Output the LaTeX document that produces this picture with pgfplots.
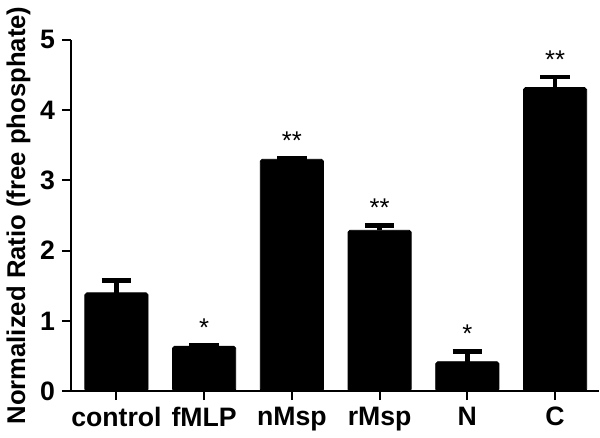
\documentclass[border=0pt]{standalone}
\usepackage{fontspec}
\setmainfont{Liberation Sans}
\usepackage{pgfplots}
\usepackage{pgfplotstable}
\pgfplotsset{compat=1.18}

\pgfplotstableread{
x y err star
0 1.40 0.17 {}
1 0.64 0.01 *
2 3.30 0.01 **
3 2.29 0.07 **
4 0.42 0.15 *
5 4.32 0.15 **
}\ratios

\begin{document}
\begin{tikzpicture}[font=\bfseries]
\begin{axis}[
  scale only axis, width=267.5pt, height=178pt,
  xmin=-0.52, xmax=5.5, ymin=0, ymax=5,
  axis x line*=bottom, axis y line*=left,
  axis line style={line width=1.1pt, -},
  xtick=data, xticklabels={control, fMLP, nMsp, rMsp, N, C},
  ytick={0,1,2,3,4,5},
  tick style={line width=1.1pt, black},
  major tick length=4.5pt, tick align=outside,
  tick label style={font=\fontsize{13.5}{15}\bfseries},
  /pgf/number format/assume math mode=true,
  ylabel={Normalized Ratio (free phosphate)},
  ylabel style={font=\fontsize{13}{15}\bfseries, yshift=-2pt},
  clip=false,
]
\addplot[ybar, bar width=32pt, bar shift=0pt, fill=black, draw=black,
  rounded corners=1pt,
  error bars/.cd, y dir=plus, y explicit,
  error bar style={line width=2.4pt, black},
  error mark options={rotate=90, mark size=7.5pt, line width=2.4pt, black}]
  table[x=x, y=y, y error=err] {\ratios};
\addplot[draw=none, mark=none, nodes near coords, point meta=explicit symbolic,
  every node near coord/.append style={font=\fontsize{13}{14}\selectfont, anchor=south, yshift=1pt}]
  table[x=x, y expr=\thisrow{y}+\thisrow{err}, meta=star] {\ratios};
\end{axis}
\end{tikzpicture}
\end{document}
